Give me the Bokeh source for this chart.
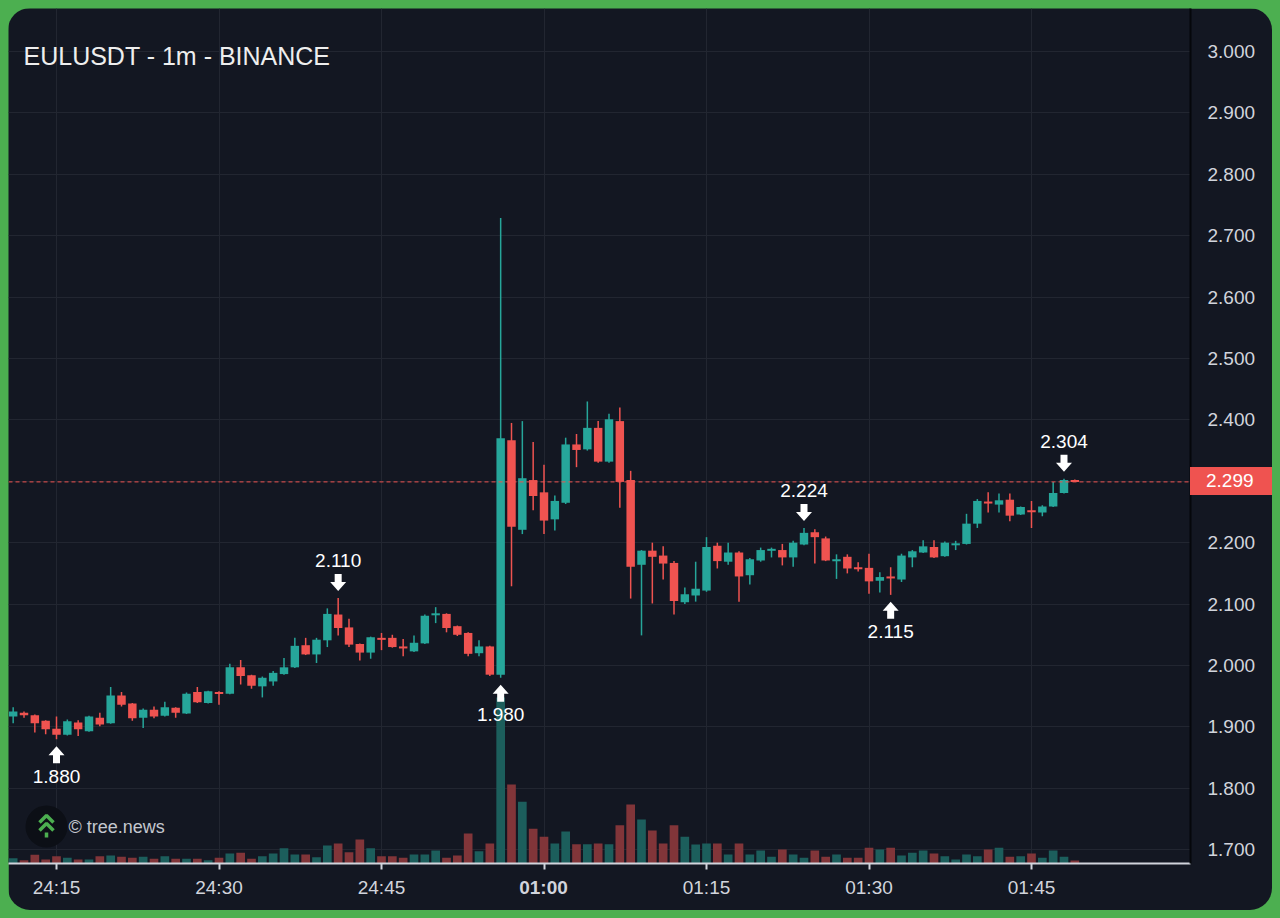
from bokeh.plotting import figure
from bokeh.models import Range1d, FixedTicker, PrintfTickFormatter, Span, Label, Div
from bokeh.layouts import column
from bokeh.embed import file_html
from bokeh.resources import INLINE
from bokeh.core.properties import value

# ---------------- data (minutes after 00:00, 1m candles) ----------------
minutes = list(range(11, 110))
opens = [1.917, 1.923, 1.919, 1.910, 1.897, 1.887, 1.907, 1.893, 1.915, 1.906,
         1.951, 1.938, 1.915, 1.928, 1.918, 1.931, 1.922, 1.957, 1.939, 1.957,
         1.954, 1.997, 1.984, 1.966, 1.974, 1.986, 1.997, 2.033, 2.018, 2.041,
         2.083, 2.062, 2.035, 2.021, 2.045, 2.045, 2.031, 2.023, 2.036, 2.082,
         2.084, 2.064, 2.053, 2.020, 2.031, 1.985, 2.367, 2.221, 2.302, 2.282,
         2.238, 2.265, 2.360, 2.352, 2.387, 2.332, 2.398, 2.302, 2.164, 2.187,
         2.179, 2.167, 2.103, 2.114, 2.122, 2.195, 2.169, 2.184, 2.147, 2.171,
         2.187, 2.188, 2.176, 2.197, 2.217, 2.207, 2.171, 2.177, 2.160, 2.159,
         2.138, 2.145, 2.140, 2.176, 2.184, 2.193, 2.178, 2.198, 2.198, 2.231,
         2.267, 2.262, 2.270, 2.246, 2.253, 2.249, 2.259, 2.281, 2.302]
highs = [1.932, 1.925, 1.920, 1.911, 1.917, 1.912, 1.911, 1.918, 1.923, 1.965,
         1.957, 1.939, 1.930, 1.933, 1.941, 1.932, 1.956, 1.965, 1.959, 1.958,
         2.003, 2.009, 1.985, 1.982, 1.991, 2.012, 2.045, 2.045, 2.045, 2.093,
         2.110, 2.076, 2.036, 2.047, 2.053, 2.050, 2.043, 2.049, 2.083, 2.095,
         2.085, 2.065, 2.054, 2.041, 2.032, 2.729, 2.395, 2.398, 2.364, 2.327,
         2.277, 2.371, 2.377, 2.430, 2.398, 2.410, 2.420, 2.317, 2.188, 2.200,
         2.194, 2.170, 2.127, 2.169, 2.209, 2.200, 2.200, 2.186, 2.175, 2.192,
         2.192, 2.198, 2.203, 2.224, 2.222, 2.210, 2.181, 2.181, 2.168, 2.182,
         2.152, 2.160, 2.182, 2.188, 2.204, 2.204, 2.202, 2.203, 2.247, 2.271,
         2.282, 2.280, 2.280, 2.259, 2.268, 2.261, 2.299, 2.304, 2.303]
lows = [1.906, 1.915, 1.891, 1.888, 1.880, 1.886, 1.885, 1.892, 1.901, 1.905,
        1.933, 1.910, 1.898, 1.914, 1.917, 1.915, 1.921, 1.939, 1.938, 1.936,
        1.953, 1.969, 1.962, 1.948, 1.967, 1.985, 1.996, 2.017, 2.004, 2.030,
        2.049, 2.030, 2.008, 2.011, 2.025, 2.029, 2.015, 2.022, 2.035, 2.069,
        2.054, 2.048, 2.015, 2.015, 1.983, 1.980, 2.129, 2.214, 2.253, 2.214,
        2.220, 2.263, 2.323, 2.350, 2.330, 2.330, 2.257, 2.109, 2.049, 2.101,
        2.140, 2.083, 2.100, 2.104, 2.120, 2.158, 2.164, 2.104, 2.132, 2.169,
        2.176, 2.163, 2.161, 2.196, 2.166, 2.170, 2.141, 2.150, 2.153, 2.117,
        2.119, 2.115, 2.136, 2.160, 2.183, 2.175, 2.177, 2.188, 2.197, 2.224,
        2.249, 2.249, 2.235, 2.245, 2.224, 2.243, 2.258, 2.280, 2.299]
closes = [1.925, 1.919, 1.906, 1.896, 1.887, 1.909, 1.896, 1.917, 1.904, 1.951,
          1.936, 1.914, 1.928, 1.917, 1.932, 1.923, 1.954, 1.940, 1.958, 1.954,
          1.997, 1.983, 1.967, 1.980, 1.988, 1.997, 2.032, 2.018, 2.042, 2.084,
          2.061, 2.034, 2.021, 2.046, 2.043, 2.030, 2.028, 2.037, 2.081, 2.085,
          2.061, 2.050, 2.019, 2.031, 1.985, 2.370, 2.226, 2.305, 2.276, 2.236,
          2.268, 2.360, 2.351, 2.387, 2.332, 2.401, 2.299, 2.161, 2.187, 2.177,
          2.166, 2.105, 2.116, 2.125, 2.193, 2.170, 2.184, 2.145, 2.173, 2.188,
          2.190, 2.176, 2.200, 2.216, 2.209, 2.171, 2.173, 2.158, 2.157, 2.137,
          2.144, 2.143, 2.179, 2.186, 2.194, 2.176, 2.200, 2.199, 2.231, 2.268,
          2.264, 2.269, 2.244, 2.258, 2.251, 2.259, 2.281, 2.302, 2.299]
volumes = [53, 33, 87, 40, 73, 57, 40, 40, 73, 80,
           67, 57, 67, 47, 73, 47, 47, 47, 33, 57,
           100, 107, 47, 73, 100, 153, 90, 90, 63, 180,
           200, 113, 240, 153, 73, 73, 57, 90, 90, 130,
           57, 80, 300, 123, 200, 1660, 790, 617, 347, 267,
           200, 320, 193, 193, 200, 193, 383, 590, 440, 330,
           200, 383, 267, 190, 200, 200, 90, 200, 90, 130,
           67, 140, 90, 57, 130, 67, 90, 57, 57, 157,
           140, 157, 80, 107, 130, 100, 73, 40, 90, 73,
           140, 157, 67, 73, 100, 57, 130, 67, 30]

x_ticks = [15, 30, 45, 60, 75, 90, 105]
x_tick_labels = ["24:15", "24:30", "24:45", "01:00", "01:15", "01:30", "01:45"]
bold_tick = 60
y_ticks = [1.7, 1.8, 1.9, 2.0, 2.1, 2.2, 2.3, 2.4, 2.5, 2.6, 2.7, 2.8, 2.9, 3.0]

mark_minutes = [15, 41, 56, 84, 92, 108]
mark_prices = [1.880, 2.110, 1.980, 2.224, 2.115, 2.304]
mark_kinds = ["low", "high", "low", "high", "low", "high"]

title_text = "EULUSDT - 1m - BINANCE"
watermark_text = "\u00a9 tree.news"

# ---------------- styles ----------------
BG = "#131722"
GRID = "#222631"
UP = "#26a69a"
DOWN = "#ef5350"
UP_VOL = "#1c5e5c"
DOWN_VOL = "#813539"
TXT = "#d1d4dc"
GREEN = "#4caf50"
FONT = "Liberation Sans"
AX_FS = "19px"
PAD = 8

FW, FH = 1182, 855
RIGHT_W, BOTTOM_H = 82, 47
x0, x1 = 10.569, 119.677
y0, y1 = 1.6775, 3.0700
ppm = FW / (x1 - x0)   # px per minute
ppp = FH / (y1 - y0)   # px per price unit

p = figure(frame_width=FW, frame_height=FH, x_range=Range1d(x0, x1), y_range=Range1d(y0, y1),
           y_axis_location="right", output_backend="svg", toolbar_location=None,
           min_border_left=0, min_border_top=0, min_border_right=RIGHT_W, min_border_bottom=BOTTOM_H,
           background_fill_color=BG, border_fill_color=BG, outline_line_color=None)
p.extra_y_ranges = {"vol": Range1d(0, 8550)}

p.xgrid.ticker = FixedTicker(ticks=x_ticks)
p.ygrid.ticker = FixedTicker(ticks=y_ticks)
p.grid.grid_line_color = GRID
p.grid.grid_line_width = 1

ax = p.xaxis[0]
ax.ticker = FixedTicker(ticks=x_ticks)
overrides = {t: l for t, l in zip(x_ticks, x_tick_labels)}
overrides[bold_tick] = ""
ax.major_label_overrides = overrides
ax.axis_line_color = TXT
ax.axis_line_width = 2
ax.major_tick_line_color = TXT
ax.major_tick_line_width = 2
ax.major_tick_out = 6
ax.major_tick_in = 0
ax.minor_tick_line_color = None
ax.major_label_standoff = 7
ax.major_label_text_color = TXT
ax.major_label_text_font_size = AX_FS
ax.major_label_text_font = FONT

ay = p.yaxis[0]
ay.ticker = FixedTicker(ticks=y_ticks)
ay.formatter = PrintfTickFormatter(format="%.3f")
ay.axis_line_color = "#05070b"
ay.axis_line_width = 2
ay.major_tick_line_color = None
ay.minor_tick_line_color = None
ay.major_label_standoff = 11
ay.major_label_text_color = TXT
ay.major_label_text_font_size = AX_FS
ay.major_label_text_font = FONT

# volume
up = [c >= o for o, c in zip(opens, closes)]
vol_colors = [UP_VOL if u else DOWN_VOL for u in up]
p.vbar(x=minutes, top=volumes, bottom=0, width=0.8, y_range_name="vol",
       fill_color=vol_colors, line_color=None)

# candles
cols = [UP if u else DOWN for u in up]
p.segment(x0=minutes, y0=highs, x1=minutes, y1=lows, line_color=cols, line_width=1.5)
tops = [max(o, c) for o, c in zip(opens, closes)]
bots = [min(o, c) for o, c in zip(opens, closes)]
bots = [b if (t - b) * ppp >= 2 else t - 2 / ppp for t, b in zip(tops, bots)]
p.vbar(x=minutes, top=tops, bottom=bots, width=0.78, fill_color=cols, line_color=None)

# last price line
last = closes[-1]
p.add_layout(Span(location=last, dimension="width", line_color=DOWN, line_dash="4 3", line_width=1))

# high / low markers
shape_px = [(0, 7), (8, 16), (3.5, 16), (3.5, 24), (-3.5, 24), (-3.5, 16), (-8, 16)]
axs, ays, tx, ty, tt = [], [], [], [], []
for m, pr, k in zip(mark_minutes, mark_prices, mark_kinds):
    s = 1 if k == "high" else -1
    axs.append([m + dx / ppm for dx, dy in shape_px])
    ays.append([pr + s * dy / ppp for dx, dy in shape_px])
    tx.append(m)
    ty.append(pr + s * 37 / ppp)
    tt.append(f"{pr:.3f}")
p.patches(xs=axs, ys=ays, fill_color="#ffffff", line_color=None)
p.text(x=tx, y=ty, text=tt, text_color="#ffffff", text_font=value(FONT),
       text_font_size="19px", text_align="center", text_baseline="middle")

# title & watermark
p.add_layout(Label(x=15, y=808, x_units="screen", y_units="screen", text=title_text,
                   text_color="#eeeeee", text_font_size="25px", text_font=FONT,
                   text_baseline="middle"))


def px_x(px):
    return x0 + (px - PAD) / ppm


def px_y(py):
    return y1 - (py - PAD) / ppp


p.scatter(x=[px_x(46)], y=[px_y(826)], size=42, marker="circle", fill_color="#0c0f16", line_color=None)
chev_xs = [[px_x(39), px_x(46), px_x(53)], [px_x(39), px_x(46), px_x(53)], [px_x(46), px_x(46)]]
chev_ys = [[px_y(822), px_y(815), px_y(822)], [px_y(830), px_y(823), px_y(830)], [px_y(832), px_y(837)]]
p.multi_line(xs=chev_xs, ys=chev_ys, line_color=GREEN, line_width=3.5)
p.add_layout(Label(x=60, y=37, x_units="screen", y_units="screen", text=watermark_text,
                   text_color="#c4c7cf", text_font_size="18px", text_font=FONT,
                   text_baseline="middle"))

p.styles = {"border-radius": "22px", "overflow": "hidden"}

# ---- overlay: last-price box on the price axis ----
BOX_H = 28
box_top = PAD + (y1 - last) * ppp - BOX_H / 2
box = Div(text=f"{last:.3f}", width=RIGHT_W, height=BOX_H,
          styles={"position": "absolute", "left": f"{PAD + FW}px", "top": f"{box_top:.1f}px",
                  "z-index": "10", "background-color": DOWN, "color": "#ffffff",
                  "font-family": FONT, "font-size": AX_FS, "line-height": f"{BOX_H}px",
                  "padding-left": "16px", "box-sizing": "border-box", "margin": "0"})

# ---- overlay: bold 01:00 time label ----
TW, TH = 70, 26
t_left = PAD + (bold_tick - x0) * ppm - TW / 2
t_top = PAD + FH + 25 - TH / 2
tlab = Div(text=x_tick_labels[x_ticks.index(bold_tick)], width=TW, height=TH,
           styles={"position": "absolute", "left": f"{t_left:.1f}px", "top": f"{t_top:.1f}px",
                   "z-index": "10", "color": TXT, "font-family": FONT, "font-size": AX_FS,
                   "font-weight": "bold", "text-align": "center", "line-height": f"{TH}px",
                   "margin": "0"})

root = column(p, box, tlab, styles={"background-color": GREEN, "padding": f"{PAD}px",
                                    "position": "relative"})

open("out.html", "w").write(file_html(root, INLINE))
